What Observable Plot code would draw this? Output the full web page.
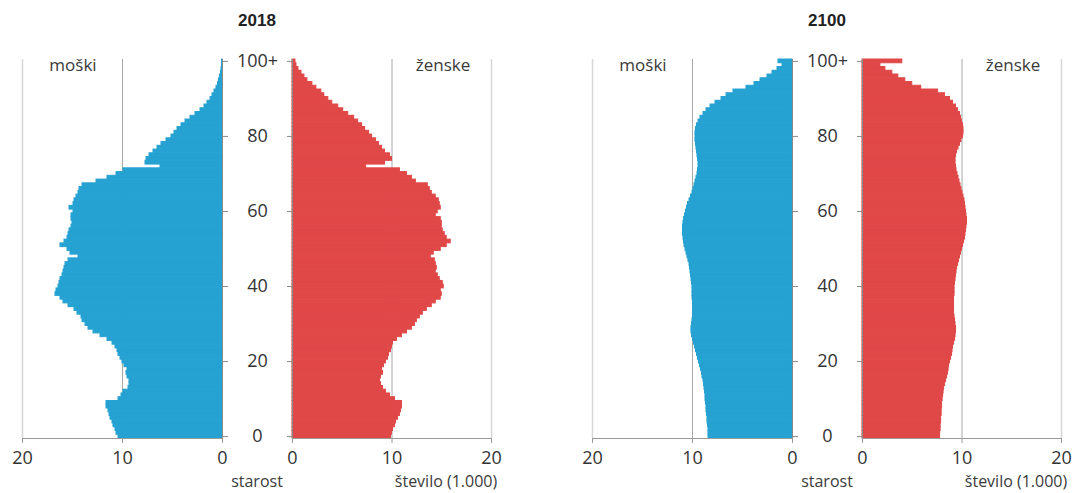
<!DOCTYPE html>
<html><head><meta charset="utf-8">
<script src="https://cdn.jsdelivr.net/npm/d3@7"></script>
<script src="https://cdn.jsdelivr.net/npm/@observablehq/plot@0.6"></script>
<style>
body{margin:0;background:#fff;font-family:"Open Sans",sans-serif;}
#chart{position:relative;width:1076px;height:493px;}
.pan{position:absolute;top:0;}
.lbl{position:absolute;transform:translate(-50%,-50%);white-space:nowrap;color:#3a3a3a;line-height:1.1;font-size:17px;}
.ttl{font-family:"Liberation Sans",Arial,sans-serif;font-weight:bold;font-size:17px;color:#222;}
.ax{font-size:16px;}
</style></head><body><div id="chart"></div>
<script>
const ages = [0,1,2,3,4,5,6,7,8,9,10,11,12,13,14,15,16,17,18,19,20,21,22,23,24,25,26,27,28,29,30,31,32,33,34,35,36,37,38,39,40,41,42,43,44,45,46,47,48,49,50,51,52,53,54,55,56,57,58,59,60,61,62,63,64,65,66,67,68,69,70,71,72,73,74,75,76,77,78,79,80,81,82,83,84,85,86,87,88,89,90,91,92,93,94,95,96,97,98,99,100];
const ageTicks = [0,20,40,60,80,100];
const ageTickLabels = ["0","20","40","60","80","100+"];
const xTicks = [0,10,20];
const years = ["2018","2100"];
const sexLabels = ["moški","ženske"];
const ageTitle = "starost";
const valueTitle = "število (1.000)";

const male2018 = [10.4,10.6,10.7,10.9,11.0,11.2,11.3,11.4,11.6,11.6,
 10.4,10.1,9.9,9.4,9.3,9.3,9.5,9.6,9.5,9.8,
 10.0,10.2,10.4,10.5,10.7,11.0,11.5,12.2,12.9,13.4,
 13.7,14.0,14.1,14.5,14.8,15.4,15.9,16.2,16.7,16.6,
 16.4,16.3,16.2,16.0,15.9,15.8,15.7,15.4,14.4,15.2,
 15.5,16.2,15.8,15.5,15.4,15.3,15.1,15.0,15.1,15.1,
 14.9,15.3,14.9,14.8,14.6,14.4,14.3,14.0,12.6,11.5,
 10.6,9.9,6.2,7.7,7.6,7.3,6.9,6.5,6.1,5.6,
 5.1,4.8,4.5,4.1,3.7,3.2,2.7,2.2,1.8,1.5,
 1.2,1.0,0.8,0.6,0.45,0.35,0.25,0.15,0.1,0.05,0.05];
const female2018 = [9.9,10.0,10.1,10.3,10.4,10.6,10.8,10.9,11.0,11.0,
 10.3,9.8,9.4,9.1,8.9,8.8,8.9,9.1,9.0,9.2,
 9.4,9.6,9.7,9.9,10.0,10.1,10.5,11.0,11.5,12.0,
 12.3,12.5,12.8,13.1,13.5,14.0,14.4,14.9,15.0,14.9,
 15.2,15.1,14.8,14.6,14.4,14.5,14.4,14.3,13.9,14.2,
 14.9,15.5,15.9,15.5,15.3,15.1,15.0,15.0,14.9,14.4,
 14.6,14.9,14.8,14.7,14.4,14.0,13.8,13.6,12.4,12.0,
 11.5,10.8,7.4,9.3,10.0,9.8,9.3,9.0,8.7,8.4,
 8.0,7.7,7.3,7.0,6.6,6.2,5.6,5.1,4.6,4.0,
 3.6,3.2,2.9,2.4,2.0,1.5,1.2,0.9,0.6,0.4,0.3];
const male2100 = [8.4,8.4,8.4,8.45,8.5,8.5,8.55,8.6,8.6,8.65,
 8.7,8.7,8.75,8.8,8.85,8.9,9.0,9.05,9.15,9.25,
 9.35,9.45,9.55,9.65,9.75,9.85,9.95,10.05,10.1,10.1,
 10.05,10.0,9.95,9.95,9.95,9.95,9.95,10.0,10.0,10.0,
 10.0,10.05,10.1,10.15,10.2,10.25,10.3,10.4,10.5,10.6,
 10.7,10.8,10.85,10.9,10.95,10.95,10.95,10.9,10.85,10.75,
 10.65,10.55,10.45,10.3,10.15,10.0,9.9,9.8,9.7,9.6,
 9.5,9.45,9.4,9.4,9.45,9.5,9.55,9.6,9.65,9.7,
 9.7,9.7,9.65,9.55,9.4,9.2,8.9,8.6,8.2,7.7,
 7.1,6.6,5.9,4.6,3.8,3.2,2.5,2.0,1.5,1.0,1.4];
const female2100 = [7.8,7.8,7.85,7.85,7.9,7.9,7.95,7.95,8.0,8.0,
 8.05,8.1,8.15,8.2,8.3,8.4,8.5,8.6,8.65,8.7,
 8.8,8.9,9.0,9.05,9.1,9.2,9.3,9.35,9.4,9.4,
 9.35,9.3,9.25,9.2,9.2,9.2,9.2,9.2,9.25,9.25,
 9.25,9.3,9.35,9.4,9.45,9.5,9.6,9.7,9.8,9.9,
 10.0,10.1,10.2,10.3,10.35,10.4,10.45,10.5,10.5,10.45,
 10.4,10.35,10.3,10.25,10.15,10.05,9.95,9.85,9.75,9.65,
 9.55,9.45,9.4,9.35,9.35,9.4,9.5,9.65,9.8,9.95,
 10.1,10.15,10.15,10.1,10.0,9.9,9.8,9.6,9.4,9.1,
 8.8,8.3,7.6,5.9,5.0,4.3,3.6,3.0,2.3,1.8,4.0];

const BLUE = "#26a2d2", RED = "#e04848";
const yMin = ages[0] - 0.5, yMax = ages[ages.length - 1] + 0.5;
const chart = document.getElementById("chart");

function panel(values, color, male, left, width, mL, mR) {
  const data = ages.map((a, i) => ({age: a, v: values[i]}));
  const fmt = d => ageTickLabels[ageTicks.indexOf(d)];
  const svg = Plot.plot({
    width, height: 493,
    marginTop: 59, marginBottom: 55, marginLeft: mL, marginRight: mR,
    x: {domain: [xTicks[0], xTicks[xTicks.length - 1]], reverse: male},
    y: {domain: [yMin, yMax]},
    style: {overflow: "visible", background: "transparent", color: "#333", fontFamily: "'Open Sans', sans-serif"},
    marks: [
      Plot.ruleX([xTicks[2]], {stroke: "#d6d6d6", strokeWidth: 1.5}),
      Plot.ruleX([xTicks[1]], {stroke: "#a8a8a8", strokeWidth: 1}),
      Plot.rectX(data, {x1: 0, x2: "v", y1: d => d.age - 0.5, y2: d => d.age + 0.5, fill: color, stroke: color, strokeWidth: 1}),
      Plot.ruleX([xTicks[0]], {stroke: "#8a8a8a", strokeWidth: 1}),
      Plot.ruleY([yMin], {stroke: "#9a9a9a", strokeWidth: 1}),
      Plot.axisX({ticks: xTicks, tickSize: 5, tickPadding: 8, fontSize: 18, stroke: "#9a9a9a", fill: "#333", label: null}),
      male
        ? Plot.axisY({anchor: "right", ticks: ageTicks, tickFormat: fmt, tickSize: 5, tickPadding: 30, textAnchor: "middle", fontSize: 18, stroke: "#8a8a8a", fill: "#333", label: null})
        : Plot.axisY({anchor: "left", ticks: ageTicks, tickFormat: () => "", tickSize: 5, stroke: "#8a8a8a", label: null})
    ]
  });
  const div = document.createElement("div");
  div.className = "pan";
  div.style.left = left + "px";
  div.appendChild(svg);
  chart.appendChild(div);
}

panel(male2018, BLUE, true, 0, 257, 22, 35);
panel(female2018, RED, false, 257, 257, 35, 23);
panel(male2100, BLUE, true, 570, 257, 22, 35);
panel(female2100, RED, false, 827, 249, 35, 15);

function label(text, x, y, cls) {
  const d = document.createElement("div");
  d.className = "lbl " + (cls || "");
  d.textContent = text;
  d.style.left = x + "px";
  d.style.top = y + "px";
  chart.appendChild(d);
}
label(years[0], 257, 21, "ttl");
label(years[1], 827, 21, "ttl");
label(sexLabels[0], 73, 65);
label(sexLabels[1], 443, 65);
label(sexLabels[0], 643, 65);
label(sexLabels[1], 1013, 65);
label(ageTitle, 257, 482, "ax");
label(valueTitle, 446, 482, "ax");
label(ageTitle, 827, 482, "ax");
label(valueTitle, 1016, 482, "ax");
</script></body></html>
